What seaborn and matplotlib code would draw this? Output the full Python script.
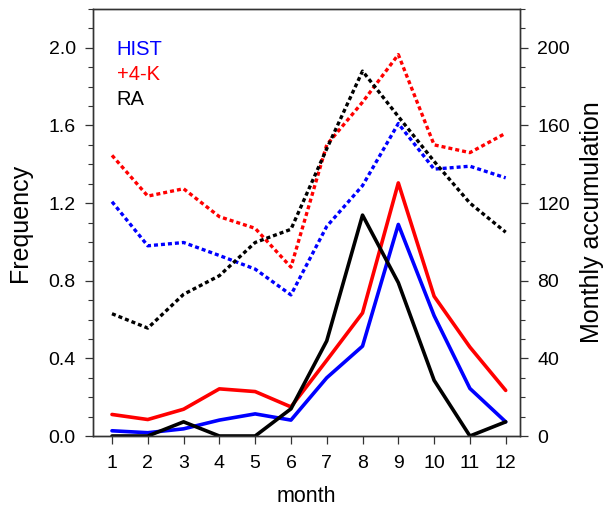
import numpy as np
import pandas as pd
import matplotlib
matplotlib.use("Agg")
import matplotlib.pyplot as plt
from matplotlib.ticker import MultipleLocator
import seaborn as sns

months = list(range(1, 13))
series = ["HIST", "+4-K", "RA"]
colors = {"HIST": "#0000ff", "+4-K": "#ff0000", "RA": "#000000"}

# frequency (left axis, solid)
freq_hist = [0.027, 0.017, 0.037, 0.082, 0.114, 0.082, 0.30, 0.463, 1.09, 0.62, 0.245, 0.073]
freq_4k = [0.111, 0.085, 0.138, 0.243, 0.229, 0.15, 0.39, 0.634, 1.304, 0.72, 0.458, 0.235]
freq_ra = [0.0, 0.0, 0.073, 0.0, 0.0, 0.14, 0.49, 1.138, 0.79, 0.287, 0.0, 0.073]

# monthly accumulation (right axis, dotted)
acc_hist = [120.7, 98, 99.7, 93, 86, 72.7, 108, 129, 161, 137.5, 139, 133]
acc_4k = [144.6, 123.6, 127.4, 113, 107, 87, 150, 172, 196.5, 150, 146, 156]
acc_ra = [63, 55.6, 73, 82.6, 99.7, 106.5, 148, 188, 164.6, 141.5, 120, 105]

freq = pd.DataFrame({"month": months * 3,
                     "value": freq_hist + freq_4k + freq_ra,
                     "run": np.repeat(series, 12)})
acc = pd.DataFrame({"month": months * 3,
                    "value": acc_hist + acc_4k + acc_ra,
                    "run": np.repeat(series, 12)})

sns.set_style("ticks")
plt.rcParams["font.family"] = ["Liberation Sans", "DejaVu Sans"]
plt.rcParams["text.color"] = "black"
plt.rcParams["axes.labelcolor"] = "black"

fig = plt.figure(figsize=(6.06, 5.08), dpi=100)
ax = fig.add_axes([0.1535, 0.1417, 0.7046, 0.8406])
ax2 = ax.twinx()

sns.lineplot(data=acc, x="month", y="value", hue="run", palette=colors,
             hue_order=series, ax=ax2, legend=False, linewidth=2.4,
             dashes=False)
for ln in ax2.lines:
    ln.set_dashes((1.2, 0.9))
sns.lineplot(data=freq, x="month", y="value", hue="run", palette=colors,
             hue_order=series, ax=ax, legend=False, linewidth=2.6)

ax.set_xlim(0.47, 12.4)
ax.set_ylim(0, 2.2)
ax2.set_ylim(0, 220)
ax.set_xticks(months)
ax.yaxis.set_major_locator(MultipleLocator(0.4))
ax.yaxis.set_minor_locator(MultipleLocator(0.1))
ax2.yaxis.set_major_locator(MultipleLocator(40))
ax2.yaxis.set_minor_locator(MultipleLocator(10))
ax.yaxis.set_major_formatter(matplotlib.ticker.FormatStrFormatter("%.1f"))

for a in (ax, ax2):
    a.tick_params(which="major", direction="out", length=5.5, width=0.9,
                  labelsize=14, colors="#333333", labelcolor="black")
    a.tick_params(which="minor", direction="out", length=3.5, width=0.8,
                  colors="#333333")
    for s in a.spines.values():
        s.set_linewidth(1.0)
        s.set_color("#333333")
ax.tick_params(axis="x", pad=8)
ax.tick_params(axis="y", pad=7)
ax2.tick_params(axis="y", pad=7)

ax.set_xlabel("month", fontsize=15.5, labelpad=10)
ax.set_ylabel("Frequency", fontsize=18, labelpad=12)
ax2.set_ylabel("Monthly accumulation", fontsize=18, labelpad=7)

for i, name in enumerate(series):
    ax.text(0.055, 0.906 - i * 0.0585, name, transform=ax.transAxes,
            color=colors[name], fontsize=14.5, va="center", ha="left")

fig.savefig("out.png", dpi=100)
